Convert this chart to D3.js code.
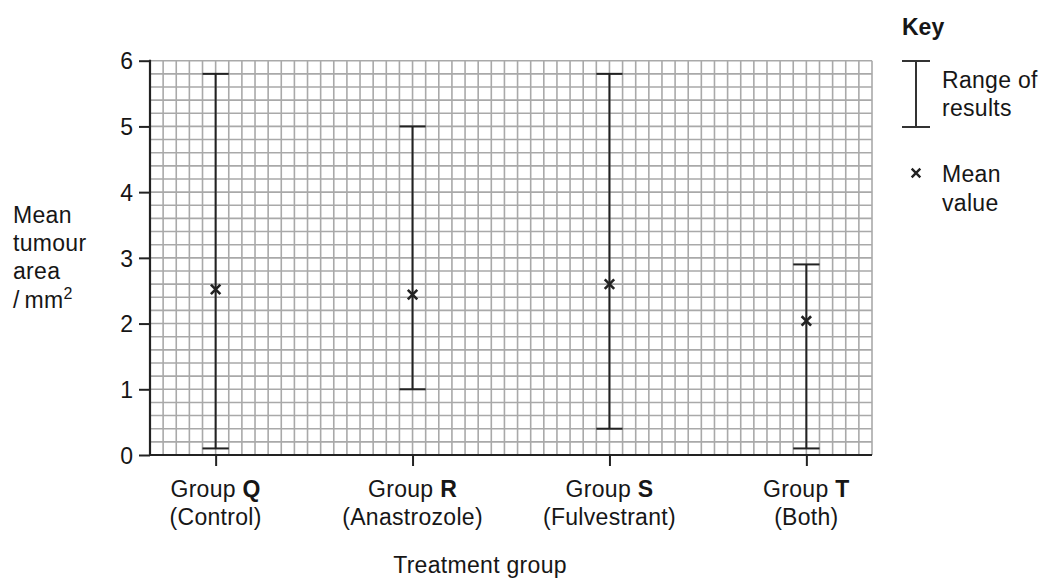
<!DOCTYPE html>
<html>
<head>
<meta charset="utf-8">
<script src="https://cdn.jsdelivr.net/npm/d3@7"></script>
<style>
  html, body { margin: 0; padding: 0; background: #fff; }
  svg { display: block; }
  text { font-family: "Liberation Sans", Arial, sans-serif; fill: #161616; }
</style>
</head>
<body>
<svg id="chart" width="1049" height="586"></svg>
<script>
// ---- data ----
const groupNames = ["Group", "Group", "Group", "Group"];
const groupLetters = ["Q", "R", "S", "T"];
const groupTreatments = ["(Control)", "(Anastrozole)", "(Fulvestrant)", "(Both)"];
const rangeMin = [0.1, 1.0, 0.4, 0.1];
const rangeMax = [5.8, 5.0, 5.8, 2.9];
const meanValues = [2.52, 2.44, 2.6, 2.04];
const yTicks = [0, 1, 2, 3, 4, 5, 6];
const yLabelLines = ["Mean", "tumour", "area"];
const xTitle = "Treatment group";

// ---- layout ----
const svg = d3.select("#chart");
const plotL = 150, plotR = 872, plotT = 60.7, plotB = 455;
const nCols = 55, nRows = 30;
const FONT = 23;

const y = d3.scaleLinear().domain([0, 6]).range([plotB, plotT]);
const xg = d3.scaleLinear().domain([0, nCols]).range([plotL, plotR]);
const x = d3.scalePoint().domain(groupLetters).range([xg(5), xg(50)]);

// grid
const grid = svg.append("g").attr("stroke", "#a9a9a9").attr("stroke-width", 1.6);
grid.selectAll("line.v").data(d3.range(1, nCols + 1)).join("line")
  .attr("x1", d => xg(d)).attr("x2", d => xg(d))
  .attr("y1", plotT).attr("y2", plotB);
grid.selectAll("line.h").data(d3.range(1, nRows + 1)).join("line")
  .attr("x1", plotL).attr("x2", plotR)
  .attr("y1", d => y(d * 6 / nRows)).attr("y2", d => y(d * 6 / nRows));

// axes
const yAxis = svg.append("g").attr("transform", `translate(${plotL},0)`)
  .call(d3.axisLeft(y).tickValues(yTicks).tickSize(11).tickPadding(6).tickFormat(d3.format("d")));
yAxis.select(".domain").remove();
yAxis.selectAll(".tick line").attr("stroke", "#222").attr("stroke-width", 2);
yAxis.selectAll(".tick text").attr("font-size", FONT).attr("font-family", "Liberation Sans, Arial, sans-serif")
  .attr("fill", "#161616").attr("dy", "0.36em");

const xAxis = svg.append("g").attr("transform", `translate(0,${plotB})`)
  .call(d3.axisBottom(x).tickSize(11).tickFormat(""));
xAxis.select(".domain").remove();
xAxis.selectAll(".tick line").attr("stroke", "#222").attr("stroke-width", 2);

svg.append("line").attr("x1", plotL).attr("x2", plotL).attr("y1", plotT - 1).attr("y2", plotB + 1)
  .attr("stroke", "#222").attr("stroke-width", 2.2);
svg.append("line").attr("x1", plotL - 1).attr("x2", plotR).attr("y1", plotB).attr("y2", plotB)
  .attr("stroke", "#222").attr("stroke-width", 2.2);

// category labels
groupLetters.forEach((g, i) => {
  const t = svg.append("text").attr("x", x(g)).attr("y", 497).attr("text-anchor", "middle")
    .attr("font-size", FONT).attr("letter-spacing", 0.3);
  t.append("tspan").text(groupNames[i] + " ");
  t.append("tspan").attr("font-weight", "bold").text(g);
  svg.append("text").attr("x", x(g)).attr("y", 525).attr("text-anchor", "middle")
    .attr("font-size", FONT).attr("letter-spacing", 0.3).text(groupTreatments[i]);
});

// error bars
const capW = xg(2) - xg(0);
const bars = svg.append("g").attr("stroke", "#222").attr("stroke-width", 2);
groupLetters.forEach((g, i) => {
  const cx = x(g);
  bars.append("line").attr("x1", cx).attr("x2", cx).attr("y1", y(rangeMin[i])).attr("y2", y(rangeMax[i]));
  bars.append("line").attr("x1", cx - capW / 2).attr("x2", cx + capW / 2).attr("y1", y(rangeMin[i])).attr("y2", y(rangeMin[i]));
  bars.append("line").attr("x1", cx - capW / 2).attr("x2", cx + capW / 2).attr("y1", y(rangeMax[i])).attr("y2", y(rangeMax[i]));
});

// mean markers
const crossSym = d3.symbol().type(d3.symbolX).size(60);
svg.append("g").selectAll("path").data(groupLetters).join("path")
  .attr("d", crossSym)
  .attr("transform", (d, i) => `translate(${x(d)},${y(meanValues[i])})`)
  .attr("stroke", "#222").attr("stroke-width", 2.6).attr("fill", "none");

// y label
const yl = svg.append("text").attr("font-size", FONT).attr("letter-spacing", 0.3);
yLabelLines.forEach((s, i) => {
  yl.append("tspan").attr("x", 13).attr("y", 223 + i * 28).text(s);
});
const yl4 = svg.append("text").attr("font-size", FONT).attr("x", 13).attr("y", 308).attr("letter-spacing", 0.3);
yl4.append("tspan").text("/\u2009mm");
yl4.append("tspan").attr("font-size", 16).attr("dy", -9).text("2");

// x title
svg.append("text").attr("x", 480).attr("y", 573).attr("text-anchor", "middle")
  .attr("font-size", FONT).attr("letter-spacing", 0.3).text(xTitle);

// key
svg.append("text").attr("x", 902).attr("y", 35).attr("font-size", FONT).attr("font-weight", "bold").text("Key");
const kx = 916;
const key = svg.append("g").attr("stroke", "#333").attr("stroke-width", 2);
key.append("line").attr("x1", kx).attr("x2", kx).attr("y1", 61).attr("y2", 127);
key.append("line").attr("x1", kx - 14).attr("x2", kx + 14).attr("y1", 61).attr("y2", 61);
key.append("line").attr("x1", kx - 14).attr("x2", kx + 14).attr("y1", 127).attr("y2", 127);
svg.append("path").attr("d", d3.symbol().type(d3.symbolX).size(50)).attr("transform", `translate(${kx},173)`)
  .attr("stroke", "#222").attr("stroke-width", 2.4).attr("fill", "none");
[["Range of", 88], ["results", 116], ["Mean", 182], ["value", 211]].forEach(([s, yy]) => {
  svg.append("text").attr("x", 942).attr("y", yy).attr("font-size", FONT).attr("letter-spacing", 0.3).text(s);
});
</script>
</body>
</html>
